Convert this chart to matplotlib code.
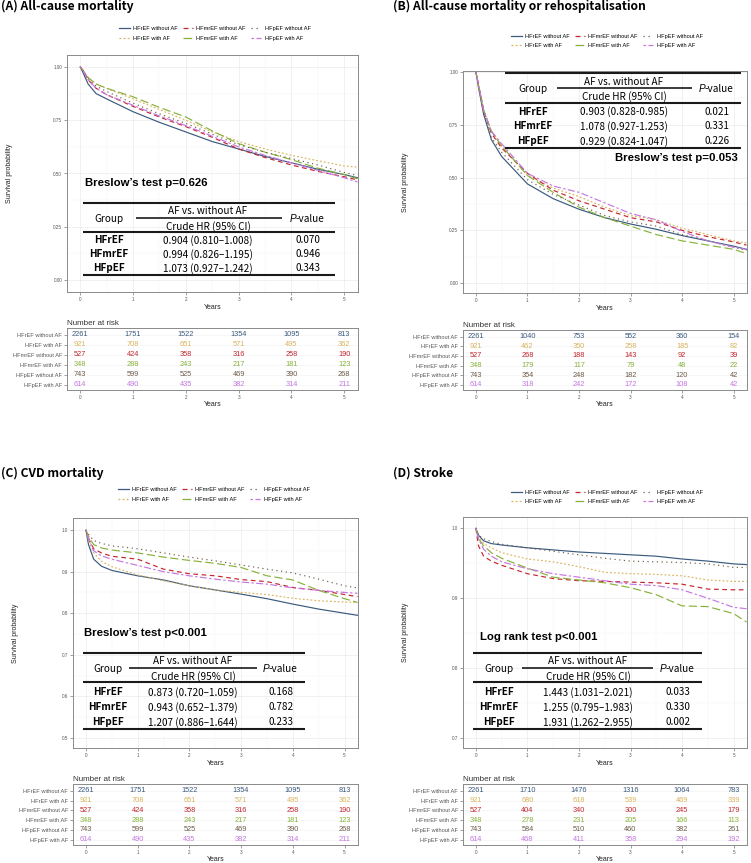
import numpy as np
import matplotlib
matplotlib.use('Agg')
import matplotlib.pyplot as plt
from matplotlib.lines import Line2D
from matplotlib.ticker import MultipleLocator

plt.rcParams['font.family'] = ['Liberation Sans', 'DejaVu Sans']

W, H = 751, 863

groups = ['HFrEF without AF', 'HFrEF with AF', 'HFmrEF without AF',
          'HFmrEF with AF', 'HFpEF without AF', 'HFpEF with AF']
colors = ['#3a5a7e', '#d8b45e', '#c4262d', '#86b23a', '#6e5b48', '#c577e2']
styles = ['-', (0, (1.5, 1.8)), (0, (4, 3)), (0, (7, 3)), (0, (1, 3)), (0, (2, 2, 6, 2))]

years = [0, 0.05, 0.15, 0.3, 0.5, 1, 1.5, 2, 2.5, 3, 3.5, 4, 4.5, 5, 5.25]

# (A) all-cause mortality
a_surv = [
    [1, 0.975, 0.92, 0.875, 0.85, 0.79, 0.74, 0.695, 0.65, 0.615, 0.58, 0.55, 0.52, 0.495, 0.48],
    [1, 0.985, 0.95, 0.92, 0.9, 0.85, 0.8, 0.75, 0.695, 0.65, 0.615, 0.585, 0.56, 0.535, 0.53],
    [1, 0.985, 0.94, 0.9, 0.87, 0.815, 0.765, 0.72, 0.67, 0.615, 0.575, 0.54, 0.51, 0.485, 0.47],
    [1, 0.985, 0.95, 0.92, 0.9, 0.86, 0.81, 0.765, 0.7, 0.64, 0.6, 0.565, 0.525, 0.495, 0.475],
    [1, 0.985, 0.945, 0.91, 0.885, 0.83, 0.78, 0.735, 0.685, 0.635, 0.6, 0.57, 0.54, 0.505, 0.49],
    [1, 0.985, 0.94, 0.9, 0.87, 0.82, 0.77, 0.725, 0.675, 0.625, 0.585, 0.55, 0.515, 0.48, 0.46],
]
# (B) all-cause mortality or rehospitalisation
b_surv = [
    [1, 0.93, 0.8, 0.68, 0.6, 0.47, 0.4, 0.35, 0.31, 0.28, 0.255, 0.225, 0.2, 0.175, 0.16],
    [1, 0.94, 0.82, 0.72, 0.65, 0.51, 0.45, 0.41, 0.36, 0.32, 0.3, 0.26, 0.23, 0.2, 0.19],
    [1, 0.94, 0.82, 0.71, 0.64, 0.52, 0.44, 0.39, 0.35, 0.31, 0.29, 0.25, 0.22, 0.195, 0.18],
    [1, 0.94, 0.82, 0.72, 0.65, 0.51, 0.43, 0.36, 0.31, 0.27, 0.23, 0.2, 0.18, 0.16, 0.14],
    [1, 0.93, 0.81, 0.69, 0.62, 0.49, 0.42, 0.37, 0.32, 0.29, 0.27, 0.23, 0.2, 0.17, 0.155],
    [1, 0.94, 0.82, 0.72, 0.66, 0.52, 0.46, 0.43, 0.38, 0.33, 0.3, 0.245, 0.2, 0.17, 0.16],
]
# (C) CVD mortality
c_surv = [
    [1, 0.965, 0.93, 0.913, 0.903, 0.89, 0.88, 0.866, 0.856, 0.846, 0.835, 0.822, 0.81, 0.8, 0.795],
    [1, 0.975, 0.945, 0.925, 0.912, 0.892, 0.878, 0.866, 0.856, 0.85, 0.845, 0.836, 0.83, 0.827, 0.826],
    [1, 0.98, 0.955, 0.945, 0.937, 0.93, 0.906, 0.895, 0.89, 0.881, 0.876, 0.862, 0.855, 0.845, 0.84],
    [1, 0.985, 0.965, 0.957, 0.952, 0.945, 0.935, 0.927, 0.92, 0.91, 0.89, 0.88, 0.855, 0.835, 0.826],
    [1, 0.99, 0.975, 0.968, 0.962, 0.955, 0.945, 0.935, 0.926, 0.916, 0.906, 0.897, 0.882, 0.866, 0.861],
    [1, 0.98, 0.95, 0.938, 0.93, 0.915, 0.9, 0.89, 0.882, 0.875, 0.87, 0.861, 0.855, 0.85, 0.848],
]
# (D) stroke
d_surv = [
    [1, 0.99, 0.982, 0.978, 0.976, 0.972, 0.969, 0.966, 0.964, 0.962, 0.96, 0.956, 0.953, 0.949, 0.948],
    [1, 0.988, 0.978, 0.972, 0.965, 0.956, 0.952, 0.945, 0.937, 0.935, 0.934, 0.932, 0.926, 0.924, 0.924],
    [1, 0.975, 0.96, 0.953, 0.947, 0.935, 0.928, 0.925, 0.924, 0.923, 0.922, 0.92, 0.913, 0.912, 0.912],
    [1, 0.985, 0.975, 0.965, 0.957, 0.943, 0.93, 0.926, 0.922, 0.915, 0.905, 0.889, 0.888, 0.878, 0.866],
    [1, 0.99, 0.985, 0.981, 0.977, 0.972, 0.967, 0.962, 0.957, 0.953, 0.952, 0.951, 0.949, 0.944, 0.944],
    [1, 0.985, 0.97, 0.96, 0.952, 0.942, 0.935, 0.93, 0.925, 0.92, 0.918, 0.912, 0.9, 0.887, 0.885],
]

# number at risk at years 0..5
risk_years = [0, 1, 2, 3, 4, 5]
a_risk = [
    [2261, 1751, 1522, 1354, 1095, 813],
    [921, 708, 651, 571, 495, 362],
    [527, 424, 358, 316, 258, 190],
    [348, 288, 243, 217, 181, 123],
    [743, 599, 525, 469, 390, 268],
    [614, 490, 435, 382, 314, 211],
]
b_risk = [
    [2261, 1040, 753, 552, 360, 154],
    [921, 462, 350, 258, 185, 82],
    [527, 268, 188, 143, 92, 39],
    [348, 179, 117, 79, 48, 22],
    [743, 354, 248, 182, 120, 42],
    [614, 318, 242, 172, 108, 42],
]
c_risk = a_risk
d_risk = [
    [2261, 1710, 1476, 1316, 1064, 783],
    [921, 680, 618, 539, 469, 339],
    [527, 404, 340, 300, 245, 179],
    [348, 278, 231, 205, 166, 113],
    [743, 584, 510, 460, 382, 261],
    [614, 468, 411, 358, 294, 192],
]

# hazard ratio tables
hr_groups = ['HFrEF', 'HFmrEF', 'HFpEF']
a_hr = ['0.904 (0.810\u20131.008)', '0.994 (0.826\u20131.195)', '1.073 (0.927\u20131.242)']
a_p = ['0.070', '0.946', '0.343']
b_hr = ['0.903 (0.828-0.985)', '1.078 (0.927-1.253)', '0.929 (0.824-1.047)']
b_p = ['0.021', '0.331', '0.226']
c_hr = ['0.873 (0.720\u20131.059)', '0.943 (0.652\u20131.379)', '1.207 (0.886\u20131.644)']
c_p = ['0.168', '0.782', '0.233']
d_hr = ['1.443 (1.031\u20132.021)', '1.255 (0.795\u20131.983)', '1.931 (1.262\u20132.955)']
d_p = ['0.033', '0.330', '0.002']

titles = ['(A) All-cause mortality', '(B) All-cause mortality or rehospitalisation',
          '(C) CVD mortality', '(D) Stroke']
tests = ['Breslow\u2019s test p=0.626', 'Breslow\u2019s test p=0.053',
         'Breslow\u2019s test p<0.001', 'Log rank test p<0.001']

fig = plt.figure(figsize=(W / 100, H / 100), dpi=100)
KR = ['Noto Sans CJK KR', 'DejaVu Sans']


def add_axes_px(x0, y0, x1, y1):
    return fig.add_axes([x0 / W, 1 - y1 / H, (x1 - x0) / W, (y1 - y0) / H])


def ftext(x, y, s, **kw):
    return fig.text(x / W, 1 - y / H, s, **kw)


def rule(x0, x1, y, lw=1.5):
    fig.add_artist(Line2D([x0 / W, x1 / W], [1 - y / H, 1 - y / H], transform=fig.transFigure,
                          color='#1a1a1a', lw=lw, solid_capstyle='butt'))


def style_axes(ax):
    for sp in ax.spines.values():
        sp.set_color('#8a8a8a')
        sp.set_linewidth(0.7)
    ax.tick_params(which='major', labelsize=3.3, colors='#555555', length=2, width=0.4, pad=1.5)
    ax.tick_params(which='minor', length=0)
    ax.grid(which='major', color='#ebebeb', lw=0.5)
    ax.grid(which='minor', color='#f4f4f4', lw=0.35)
    ax.set_axisbelow(True)


def hr_table(L, R, T, uL, uR, cg, ch, cp, hrs, ps, r0, dy):
    fs = 7.2
    rule(L, R, T)
    ftext(cg, T + 16, 'Group', family=KR, fontsize=fs, ha='center', va='center')
    ftext(ch, T + 8.5, 'AF vs. without AF', family=KR, fontsize=fs, ha='center', va='center')
    rule(uL, uR, T + 15, lw=1.2)
    ftext(ch, T + 23.5, 'Crude HR (95% CI)', family=KR, fontsize=fs, ha='center', va='center')
    ftext(cp - 12, T + 16, 'P', family='Liberation Sans', style='italic', fontsize=fs,
          ha='right', va='center')
    ftext(cp - 12, T + 16, '-value', family=KR, fontsize=fs, ha='left', va='center')
    rule(L, R, T + 29.5)
    for i in range(3):
        y = T + r0 + i * dy
        ftext(cg, y, hr_groups[i], family=KR, fontsize=fs, weight='bold', ha='center', va='center')
        ftext(ch, y, hrs[i], family=KR, fontsize=fs, ha='center', va='center')
        ftext(cp, y, ps[i], family=KR, fontsize=fs, ha='center', va='center')
    rule(L, R, T + r0 + 2 * dy + 6.5)


panels = [
    dict(surv=a_surv, risk=a_risk, hr=a_hr, p=a_p, main=(67, 55, 358, 292), rt=(67, 328, 358, 390),
         title=(1, 6), leg=(215, 33.5), ylim=(-0.056, 1.056), yt=[0, 0.25, 0.5, 0.75, 1.0], fmt='%.2f',
         minor=0.125, tab=(83, 335, 202.7, 136, 282, 109, 208, 308, 37.5, 14), test=(85, 183, 'left')),
    dict(surv=b_surv, risk=b_risk, hr=b_hr, p=b_p, main=(463, 71, 747, 293), rt=(463, 330, 747, 390),
         title=(393, 6), leg=(607, 41), ylim=(-0.047, 1.005), yt=[0, 0.25, 0.5, 0.75, 1.0], fmt='%.2f',
         minor=0.125, tab=(505, 741, 73.3, 557, 692, 533, 624, 717, 38.4, 14.7), test=(738, 158, 'right')),
    dict(surv=c_surv, risk=c_risk, hr=c_hr, p=c_p, main=(73, 518, 358, 748), rt=(73, 784, 358, 845),
         title=(1, 473), leg=(214, 494.5), ylim=(0.476, 1.029), yt=[0.5, 0.6, 0.7, 0.8, 0.9, 1.0], fmt='%.1f',
         minor=0.05, tab=(83, 305, 652.7, 129, 257, 108, 193, 281, 39.6, 15), test=(84, 633, 'left')),
    dict(surv=d_surv, risk=d_risk, hr=d_hr, p=d_p, main=(463, 517, 747, 748), rt=(463, 784, 747, 845),
         title=(393, 473), leg=(607, 497), ylim=(0.686, 1.016), yt=[0.7, 0.8, 0.9, 1.0], fmt='%.1f',
         minor=0.05, tab=(473, 702, 652.7, 522, 653, 499, 588, 678, 39.6, 15), test=(480, 637, 'left')),
]

for k, pn in enumerate(panels):
    # survival curves
    ax = add_axes_px(*pn['main'])
    for i in range(6):
        ax.plot(years, pn['surv'][i], color=colors[i], ls=styles[i], lw=0.85)
    ax.set_xlim(-0.25, 5.26)
    ax.set_ylim(*pn['ylim'])
    ax.set_xticks(range(6))
    ax.xaxis.set_minor_locator(MultipleLocator(0.5))
    ax.set_yticks(pn['yt'])
    ax.set_yticklabels([pn['fmt'] % v for v in pn['yt']])
    ax.yaxis.set_minor_locator(MultipleLocator(pn['minor']))
    style_axes(ax)
    wpx = pn['main'][2] - pn['main'][0]
    ax.set_xlabel('Years', fontsize=5, color='#222222', labelpad=1.5)
    ax.set_ylabel('Survival probability', fontsize=5, color='#222222')
    ax.yaxis.set_label_coords(-54 / wpx, 0.5)

    handles = [Line2D([], [], color=colors[i], ls=styles[i], lw=0.9) for i in range(6)]
    fig.legend(handles, groups, loc='center', bbox_to_anchor=(pn['leg'][0] / W, 1 - pn['leg'][1] / H),
               ncol=3, fontsize=4.1, frameon=False, handlelength=1.8, handletextpad=0.6,
               columnspacing=0.9, labelspacing=0.75, borderpad=0)

    ftext(pn['title'][0], pn['title'][1], titles[k], family=KR, weight='bold', fontsize=8.7,
          ha='left', va='center')

    tx, ty, tha = pn['test']
    ftext(tx, ty, tests[k], family='Liberation Sans', weight='bold', fontsize=8.2, ha=tha, va='center')
    L, R, T, uL, uR, cg, ch, cp, r0, dy = pn['tab']
    hr_table(L, R, T, uL, uR, cg, ch, cp, pn['hr'], pn['p'], r0, dy)

    # risk table
    rx = add_axes_px(*pn['rt'])
    rows = [6, 5, 4, 3, 2, 1]
    for i in range(6):
        for t, n in zip(risk_years, pn['risk'][i]):
            rx.text(t, rows[i], str(n), ha='center', va='center', fontsize=5.3, color=colors[i])
    rx.set_xlim(-0.25, 5.26)
    rx.set_ylim(0.45, 6.7)
    rx.set_xticks(risk_years)
    rx.set_yticks(rows)
    rx.set_yticklabels(groups)
    for lab, c in zip(rx.get_yticklabels(), colors):
        lab.set_color(c)
    style_axes(rx)
    rx.tick_params(axis='y', labelsize=4.1)
    rx.grid(which='major', color='#f2f2f2', lw=0.4)
    rx.set_title('Number at risk', loc='left', fontsize=5.8, color='#333333', pad=2.5)
    rx.set_xlabel('Years', fontsize=5, color='#222222', labelpad=0.5)

fig.savefig('out.png', dpi=100)
